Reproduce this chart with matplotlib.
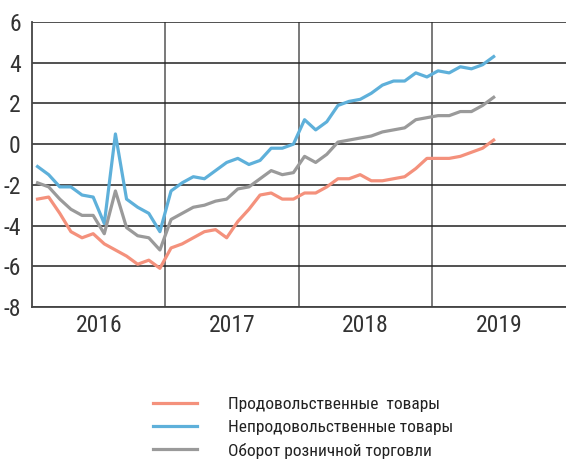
import numpy as np
import matplotlib.pyplot as plt

plt.rcParams['font.family'] = ['Roboto Condensed', 'PT Sans Narrow', 'DejaVu Sans']
plt.rcParams['axes.unicode_minus'] = False

# monthly data, Jan 2016 - Jun 2019, % y/y
food = [-2.7, -2.6, -3.4, -4.3, -4.6, -4.4, -4.9, -5.2, -5.5, -5.9, -5.7, -6.1,
        -5.1, -4.9, -4.6, -4.3, -4.2, -4.6, -3.8, -3.2, -2.5, -2.4, -2.7, -2.7,
        -2.4, -2.4, -2.1, -1.7, -1.7, -1.5, -1.8, -1.8, -1.7, -1.6, -1.2, -0.7,
        -0.7, -0.7, -0.6, -0.4, -0.2, 0.2]
nonfood = [-1.1, -1.5, -2.1, -2.1, -2.5, -2.6, -3.9, 0.5, -2.7, -3.1, -3.4, -4.3,
           -2.3, -1.9, -1.6, -1.7, -1.3, -0.9, -0.7, -1.0, -0.8, -0.2, -0.2, 0.0,
           1.2, 0.7, 1.1, 1.9, 2.1, 2.2, 2.5, 2.9, 3.1, 3.1, 3.5, 3.3,
           3.6, 3.5, 3.8, 3.7, 3.9, 4.3]
retail = [-1.9, -2.1, -2.7, -3.2, -3.5, -3.5, -4.4, -2.3, -4.1, -4.5, -4.6, -5.2,
          -3.7, -3.4, -3.1, -3.0, -2.8, -2.7, -2.2, -2.1, -1.7, -1.3, -1.5, -1.4,
          -0.6, -0.9, -0.5, 0.1, 0.2, 0.3, 0.4, 0.6, 0.7, 0.8, 1.2, 1.3,
          1.4, 1.4, 1.6, 1.6, 1.9, 2.3]
years = ['2016', '2017', '2018', '2019']
labels = ['Продовольственные  товары', 'Непродовольственные товары', 'Оборот розничной торговли']

months = np.arange(len(food)) + 0.5

fig = plt.figure(figsize=(5.66, 4.65), dpi=100)
ax = fig.add_axes([0.0565, 0.3398, 0.9435, 0.6129])

ax.plot(months, food, color='#f4917c', lw=2.3, label=labels[0])
ax.plot(months, nonfood, color='#5eb0da', lw=2.3, label=labels[1])
ax.plot(months, retail, color='#9a9a9a', lw=2.3, label=labels[2])

ax.set_xlim(0, 48)
ax.set_ylim(-8, 6)
ax.set_yticks(np.arange(-8, 7, 2))
ax.set_xticks([12, 24, 36])
ax.set_xticklabels([])
ax.set_xticks([6, 18, 30, 42], minor=True)
ax.set_xticklabels(years, minor=True)
ax.tick_params(axis='both', which='both', length=0, labelsize=17, colors='#333333')
ax.tick_params(axis='y', pad=8)
ax.tick_params(axis='x', which='minor', pad=5)
ax.grid(axis='y', color='#222222', lw=1.1)
ax.grid(axis='x', which='major', color='#555555', lw=1.1)
ax.set_axisbelow(True)
for s in ['left', 'bottom']:
    ax.spines[s].set_color('#444444')
    ax.spines[s].set_linewidth(1.3)
ax.spines['right'].set_visible(False)
ax.spines['top'].set_visible(False)

fig.legend(loc='upper left', bbox_to_anchor=(0.270, 0.147), frameon=False,
           fontsize=12.5, handlelength=2.55, handletextpad=1.8, labelspacing=0.45,
           borderpad=0, borderaxespad=0, labelcolor='#222222')

fig.savefig('out.png', dpi=100)
